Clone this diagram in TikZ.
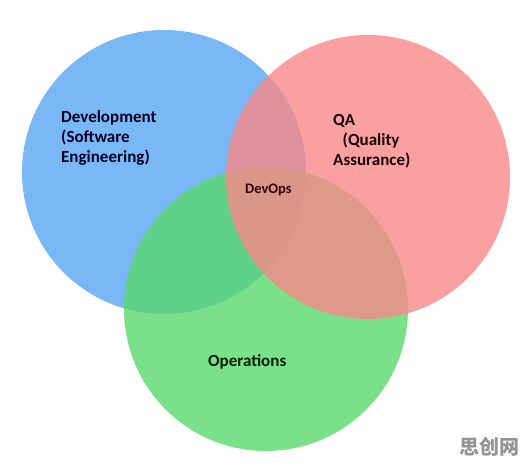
\documentclass[tikz,border=0pt]{standalone}
\usepackage{fontspec}
\setmainfont{Carlito}
\newfontfamily\cjk{Noto Sans CJK SC}
\usepackage{tikz}
\definecolor{devblue}{RGB}{122,184,245}
\definecolor{opsgreen}{RGB}{89,216,109}
\definecolor{qared}{RGB}{249,136,136}
\tikzset{
      vset/.style     = {circle, minimum size=284pt, inner sep=0pt},
      devset/.style   = {vset, fill=devblue},
      opsset/.style   = {vset, fill=opsgreen, fill opacity=0.8},
      qaset/.style    = {vset, fill=qared, fill opacity=0.8},
      setlabel/.style = {font=\fontsize{17}{20}\selectfont\bfseries, align=left, inner sep=0pt},
      wmark/.style    = {font=\fontsize{20}{20}\selectfont\cjk\bfseries, text=black!42, inner sep=0pt},
    }

\begin{document}
\begin{tikzpicture}[x=1pt, y=-1pt]
    \useasboundingbox (0,0) rectangle (527,466);
    \node [devset] (dev) at (164,172) {};
    \node [opsset] (ops) at (266,309) {};
    \node [qaset] (qa) at (368,177) {};

    \node [setlabel, anchor=north west, text=black!85!blue] (devtext) at (61,110) {Development\\(Software\\Engineering)};
    \node [setlabel, anchor=north west, text=black!90!red] (qatext) at (333,114.5) {QA\\\hspace*{9.5pt}(Quality\\Assurance)};
    \node [setlabel, anchor=base west, text=black!88!green] (opstext) at (208,366) {Operations};
    \node [font=\fontsize{14.5}{18}\selectfont\bfseries, inner sep=0pt, anchor=base west, text=black!78!red] (devops) at (245,193) {DevOps};

    \node [wmark, anchor=south east] (wm) at (520,457) {思创网};
\end{tikzpicture}
\end{document}
